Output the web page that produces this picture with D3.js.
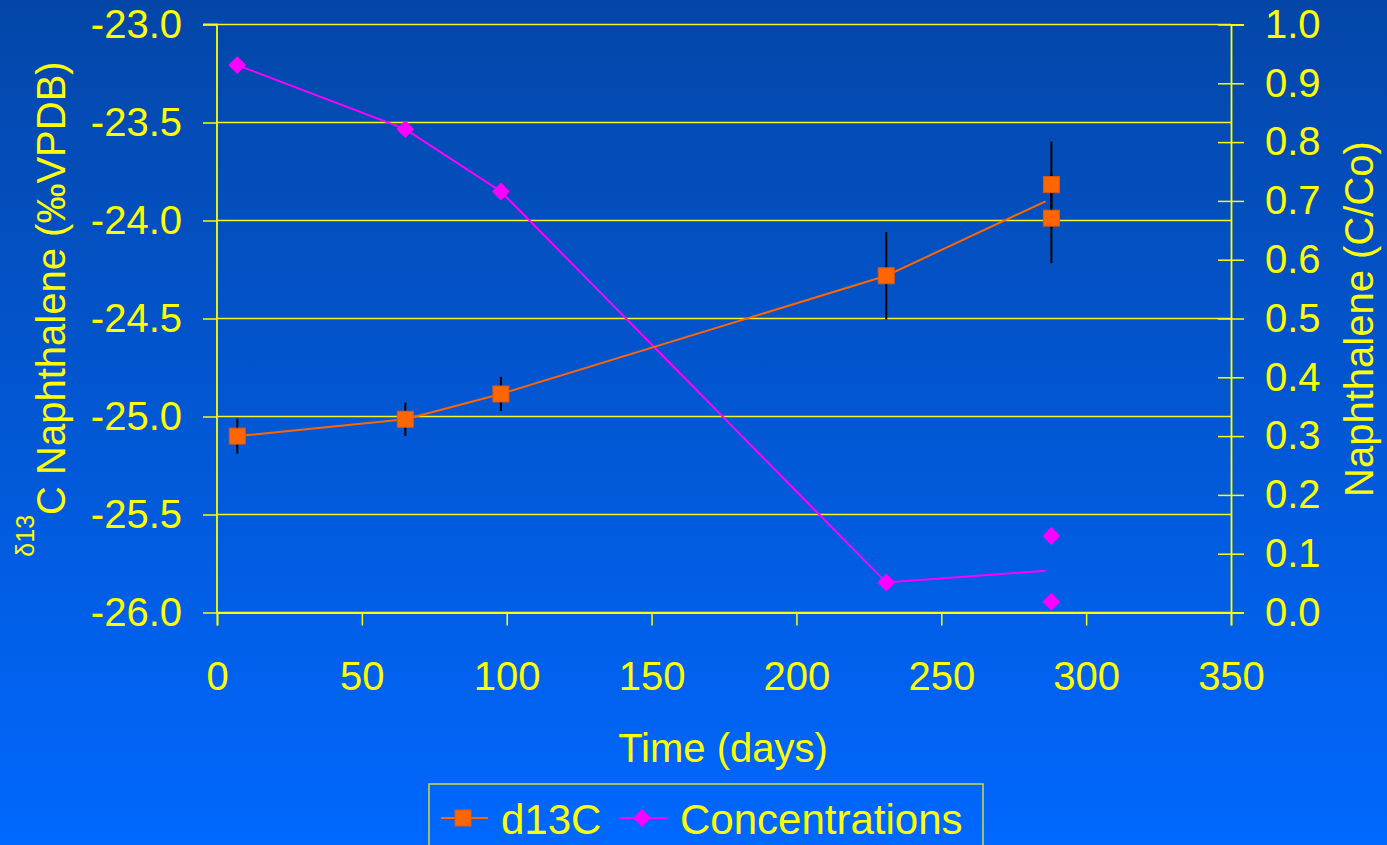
<!DOCTYPE html>
<html>
<head>
<meta charset="utf-8">
<script src="https://cdn.jsdelivr.net/npm/d3@7"></script>
<style>
  html, body { margin: 0; padding: 0; background: #0058d8; }
  svg { display: block; }
  text { font-family: "Liberation Sans", Arial, sans-serif; fill: #ffff00; }
</style>
</head>
<body>
<svg id="chart" width="1387" height="845"></svg>
<script>
// ---- data ----
const days      = [7, 65, 98, 231, 288, 288];
const d13C      = [-25.10, -25.014, -24.885, -24.282, -23.817, -23.988];
const d13CErr   = [0.089, 0.085, 0.087, 0.223, 0.22, 0.23];
const conc      = [0.931, 0.822, 0.716, 0.051, 0.130, 0.018];
// trend lines (drawn through mean of replicates)
const lineDays  = [7, 65, 98, 231, 286];
const d13CLine  = [-25.10, -25.014, -24.885, -24.282, -23.902];
const concLine  = [0.931, 0.822, 0.716, 0.051, 0.071];
const xTicks    = [0, 50, 100, 150, 200, 250, 300, 350];
const yLTicks   = [-23.0, -23.5, -24.0, -24.5, -25.0, -25.5, -26.0];
const yRTicks   = [0, 0.1, 0.2, 0.3, 0.4, 0.5, 0.6, 0.7, 0.8, 0.9, 1.0];
const seriesNames = ["d13C", "Concentrations"];

const svg = d3.select("#chart");
const W = 1387, H = 845;
const pLeft = 217, pRight = 1231, pTop = 24.5, pBottom = 612.5;

// background gradient
const defs = svg.append("defs");
const grad = defs.append("linearGradient").attr("id", "bg").attr("x1", 0).attr("y1", 0).attr("x2", 0).attr("y2", 1);
grad.append("stop").attr("offset", "0%").attr("stop-color", "#0446a8");
grad.append("stop").attr("offset", "100%").attr("stop-color", "#0068ff");
svg.append("rect").attr("width", W).attr("height", H).attr("fill", "url(#bg)");

const x = d3.scaleLinear().domain([0, 350]).range([pLeft, pRight]);
const yL = d3.scaleLinear().domain([-26, -23]).range([pBottom, pTop]);
const yR = d3.scaleLinear().domain([0, 1]).range([pBottom, pTop]);

const yellow = "#ffff00";

// gridlines
svg.append("g").selectAll("line").data(yLTicks).join("line")
  .attr("x1", pLeft).attr("x2", pRight)
  .attr("y1", d => yL(d)).attr("y2", d => yL(d))
  .attr("stroke", "#f4f428").attr("stroke-width", 1.5);

// left axis
const gL = svg.append("g").attr("transform", `translate(${pLeft},0)`)
  .call(d3.axisLeft(yL).tickValues(yLTicks).tickSize(14).tickPadding(21).tickFormat(d => d.toFixed(1)));
// right axis (outer ticks with labels)
const gR = svg.append("g").attr("transform", `translate(${pRight},0)`)
  .call(d3.axisRight(yR).tickValues(yRTicks).tickSize(13).tickPadding(21).tickFormat(d => d.toFixed(1)));
// right axis inner ticks
const gR2 = svg.append("g").attr("transform", `translate(${pRight},0)`)
  .call(d3.axisRight(yR).tickValues(yRTicks).tickSize(-13).tickFormat(""));
// bottom axis
const gB = svg.append("g").attr("transform", `translate(0,${pBottom})`)
  .call(d3.axisBottom(x).tickValues(xTicks).tickSize(13).tickPadding(36).tickFormat(d3.format("d")));

[gL, gR, gR2, gB].forEach(g => {
  g.selectAll(".domain").attr("stroke", yellow).attr("stroke-width", 1.8);
  g.selectAll(".tick line").attr("stroke", yellow).attr("stroke-width", 1.5);
  g.selectAll(".tick text").attr("fill", yellow).attr("font-size", 40)
    .attr("font-family", '"Liberation Sans", Arial, sans-serif');
});
gR2.select(".domain").remove();
gL.select(".domain").attr("d", `M-14,${pTop}H0V${pBottom}`);

// axis titles
svg.append("text").attr("x", (pLeft + pRight) / 2 - 1).attr("y", 762)
  .attr("text-anchor", "middle").attr("font-size", 40).text("Time (days)");

const lt = svg.append("text").attr("transform", "translate(65,309) rotate(-90)")
  .attr("text-anchor", "middle");
lt.append("tspan").attr("font-size", 25).attr("dy", -31).text("δ13");
lt.append("tspan").attr("font-size", 40).attr("dy", 31).text("C Naphthalene (‰VPDB)");

svg.append("text").attr("transform", "translate(1373,319) rotate(-90)")
  .attr("text-anchor", "middle").attr("font-size", 40).text("Naphthalene (C/Co)");

// series
const orange = "#ff6600", magenta = "#ff00ff";

const lineL = d3.line().x((d, i) => x(lineDays[i])).y(d => yL(d));
const lineR = d3.line().x((d, i) => x(lineDays[i])).y(d => yR(d));

svg.append("path").attr("d", lineR(concLine)).attr("fill", "none")
  .attr("stroke", magenta).attr("stroke-width", 2);
svg.append("path").attr("d", lineL(d13CLine)).attr("fill", "none")
  .attr("stroke", orange).attr("stroke-width", 2);

// error bars
svg.append("g").selectAll("line").data(d13C).join("line")
  .attr("x1", (d, i) => x(days[i])).attr("x2", (d, i) => x(days[i]))
  .attr("y1", (d, i) => yL(d + d13CErr[i])).attr("y2", (d, i) => yL(d - d13CErr[i]))
  .attr("stroke", "#000").attr("stroke-width", 2);

// concentration diamonds
const diamond = d3.symbol(d3.symbolSquare, 160);
svg.append("g").selectAll("path").data(conc).join("path")
  .attr("d", diamond)
  .attr("transform", (d, i) => `translate(${x(days[i])},${yR(d)}) rotate(45)`)
  .attr("fill", magenta);

// d13C squares
svg.append("g").selectAll("rect").data(d13C).join("rect")
  .attr("x", (d, i) => x(days[i]) - 8).attr("y", d => yL(d) - 8)
  .attr("width", 16).attr("height", 16)
  .attr("fill", orange).attr("stroke", "#e0580c").attr("stroke-width", 1);

// legend
const lg = svg.append("g");
lg.append("rect").attr("x", 429).attr("y", 784).attr("width", 554).attr("height", 80)
  .attr("fill", "none").attr("stroke", "#d8d840").attr("stroke-width", 1.5);
lg.append("line").attr("x1", 441).attr("x2", 488).attr("y1", 818).attr("y2", 818)
  .attr("stroke", orange).attr("stroke-width", 2);
lg.append("rect").attr("x", 455).attr("y", 810).attr("width", 16).attr("height", 16)
  .attr("fill", orange).attr("stroke", "#e0580c");
lg.append("text").attr("x", 501).attr("y", 834).attr("font-size", 42).text(seriesNames[0]);
lg.append("line").attr("x1", 620).attr("x2", 668).attr("y1", 818).attr("y2", 818)
  .attr("stroke", magenta).attr("stroke-width", 2);
lg.append("path").attr("d", diamond).attr("transform", "translate(642,818) rotate(45)")
  .attr("fill", magenta);
lg.append("text").attr("x", 680).attr("y", 834).attr("font-size", 42).text(seriesNames[1]);
</script>
</body>
</html>
